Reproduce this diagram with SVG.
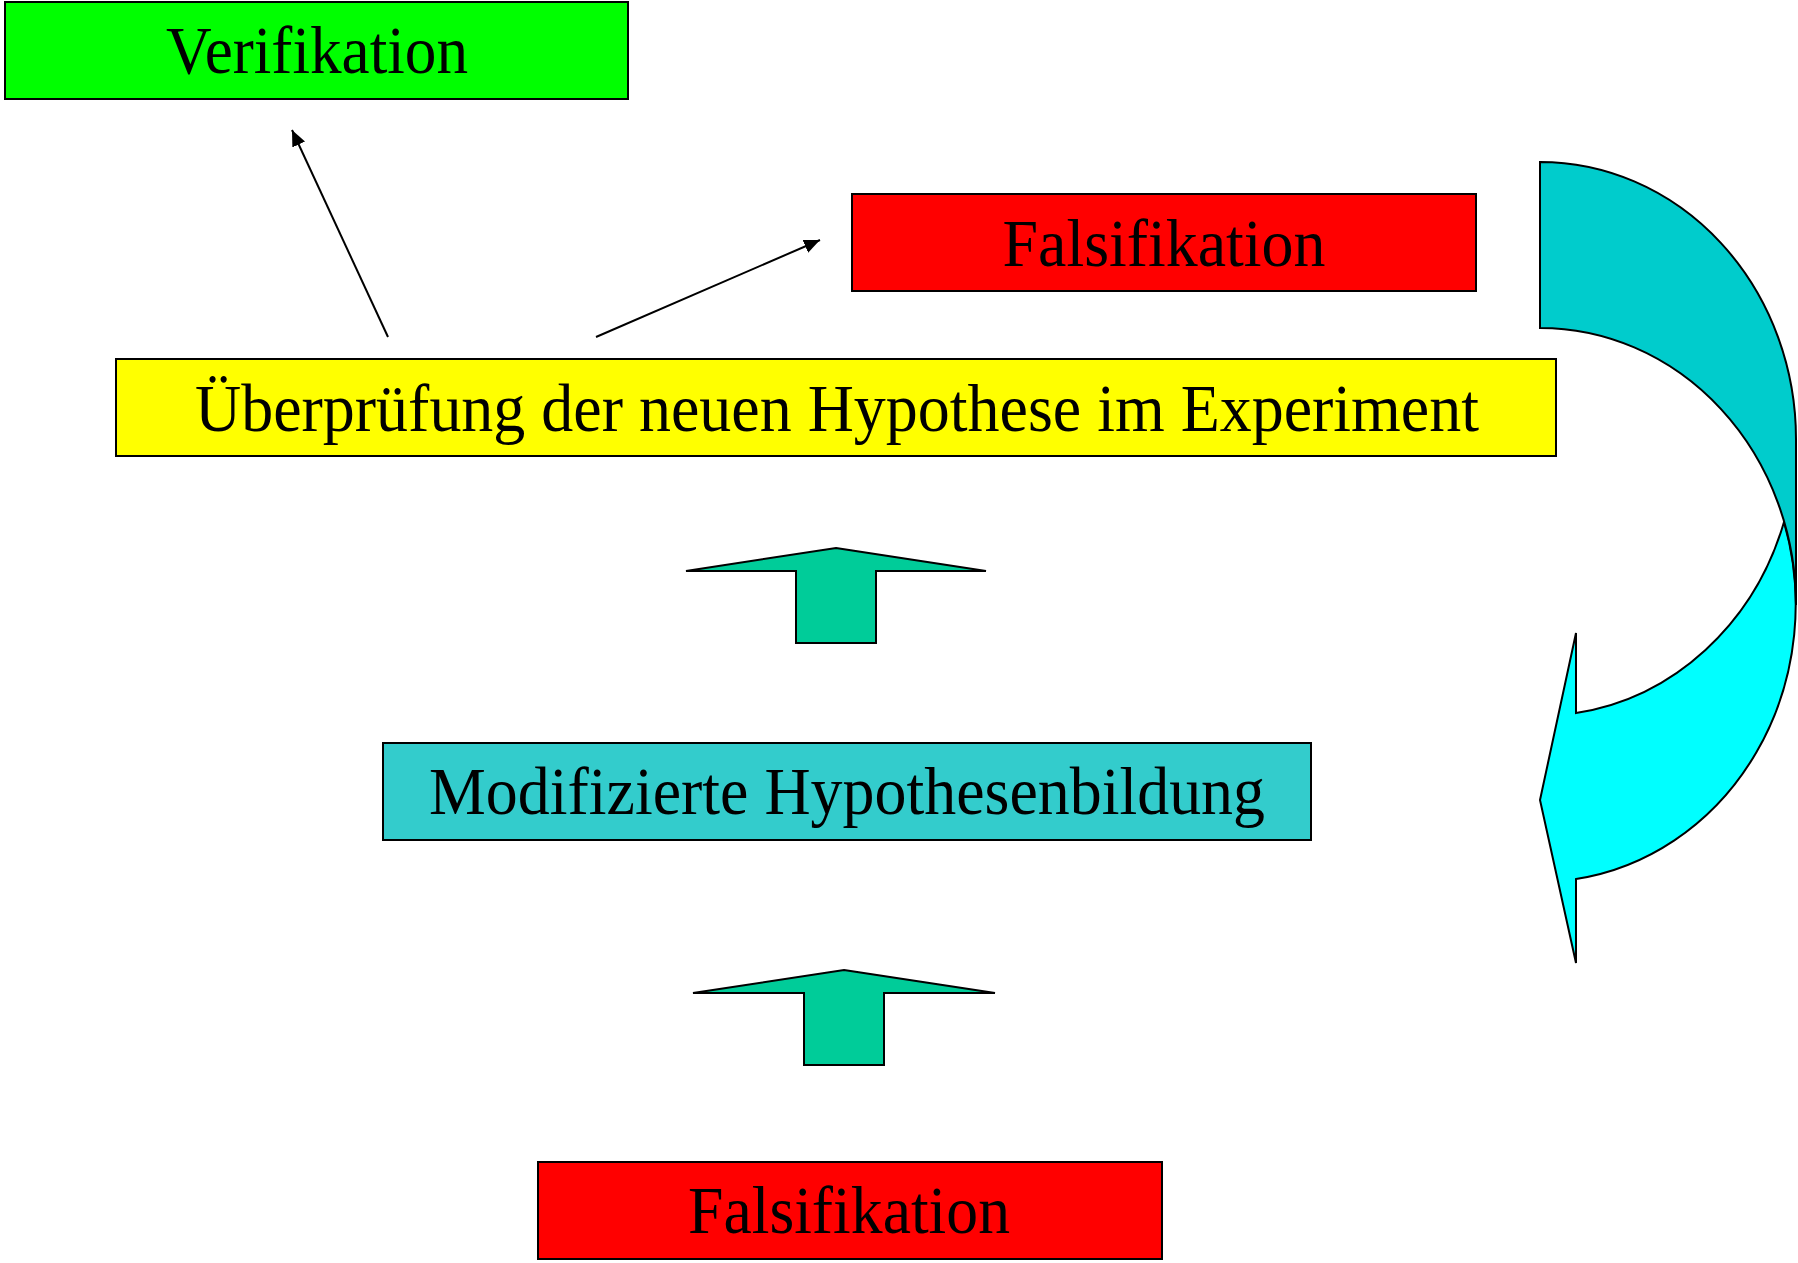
<svg xmlns="http://www.w3.org/2000/svg" width="1798" height="1263" viewBox="0 0 1798 1263">
<style>
.box{stroke:#000;stroke-width:2}
.lbl{font-family:"Liberation Serif","Times New Roman",serif;font-size:68px;fill:#000;text-anchor:middle}
.blk{fill:#00CC99;stroke:#000;stroke-width:2;stroke-linejoin:miter}
.con{stroke:#000;stroke-width:2;fill:none}
</style>
<defs>
<marker id="ah" markerWidth="16" markerHeight="14" refX="16" refY="7" orient="auto" markerUnits="userSpaceOnUse" viewBox="0 0 16 14">
<path d="M0,0 L16,7 L0,14 Z" fill="#000"/>
</marker>
</defs>
<rect width="1798" height="1263" fill="#fff"/>
<g id="verifikation">
<rect class="box" x="5" y="2" width="623" height="97" fill="#00FF00"/>
<text class="lbl" x="317" y="73" textLength="302" lengthAdjust="spacingAndGlyphs">Verifikation</text>
</g>
<g id="falsifikation-top">
<rect class="box" x="852" y="194" width="624" height="97" fill="#FF0000"/>
<text class="lbl" x="1164" y="266" textLength="323" lengthAdjust="spacingAndGlyphs">Falsifikation</text>
</g>
<g id="ueberpruefung">
<rect class="box" x="116" y="359" width="1440" height="97" fill="#FFFF00"/>
<text class="lbl" x="837" y="431" textLength="1284" lengthAdjust="spacingAndGlyphs">Überprüfung der neuen Hypothese im Experiment</text>
</g>
<g id="modifizierte">
<rect class="box" x="383" y="743" width="928" height="97" fill="#33CCCC"/>
<text class="lbl" x="847" y="814" textLength="836" lengthAdjust="spacingAndGlyphs">Modifizierte Hypothesenbildung</text>
</g>
<g id="falsifikation-bottom">
<rect class="box" x="538" y="1162" width="624" height="97" fill="#FF0000"/>
<text class="lbl" x="849" y="1233" textLength="322" lengthAdjust="spacingAndGlyphs">Falsifikation</text>
</g>
<g id="up-arrow-1">
<path class="blk" d="M836,548 L986,571 L876,571 L876,643 L796,643 L796,571 L686,571 Z"/>
</g>
<g id="up-arrow-2">
<path class="blk" d="M844,970 L995,993 L884,993 L884,1065 L804,1065 L804,993 L693,993 Z"/>
</g>
<g id="curved-arrow">
<path d="M1784,522 A256,277 0 0,1 1576,713 L1576,633 L1540,800 L1576,963 L1576,879 A256,277 0 0,0 1784,522 Z" fill="#00FFFF" stroke="#000" stroke-width="2"/>
<path d="M1540,162 A256,277 0 0,1 1796,439 L1796,605 A256,277 0 0,0 1540,328 Z" fill="#00CCCC" stroke="#000" stroke-width="2"/>
</g>
<g id="connectors">
<line class="con" x1="388" y1="337" x2="292" y2="130" marker-end="url(#ah)"/>
<line class="con" x1="596" y1="337" x2="820" y2="240" marker-end="url(#ah)"/>
</g>
</svg>
